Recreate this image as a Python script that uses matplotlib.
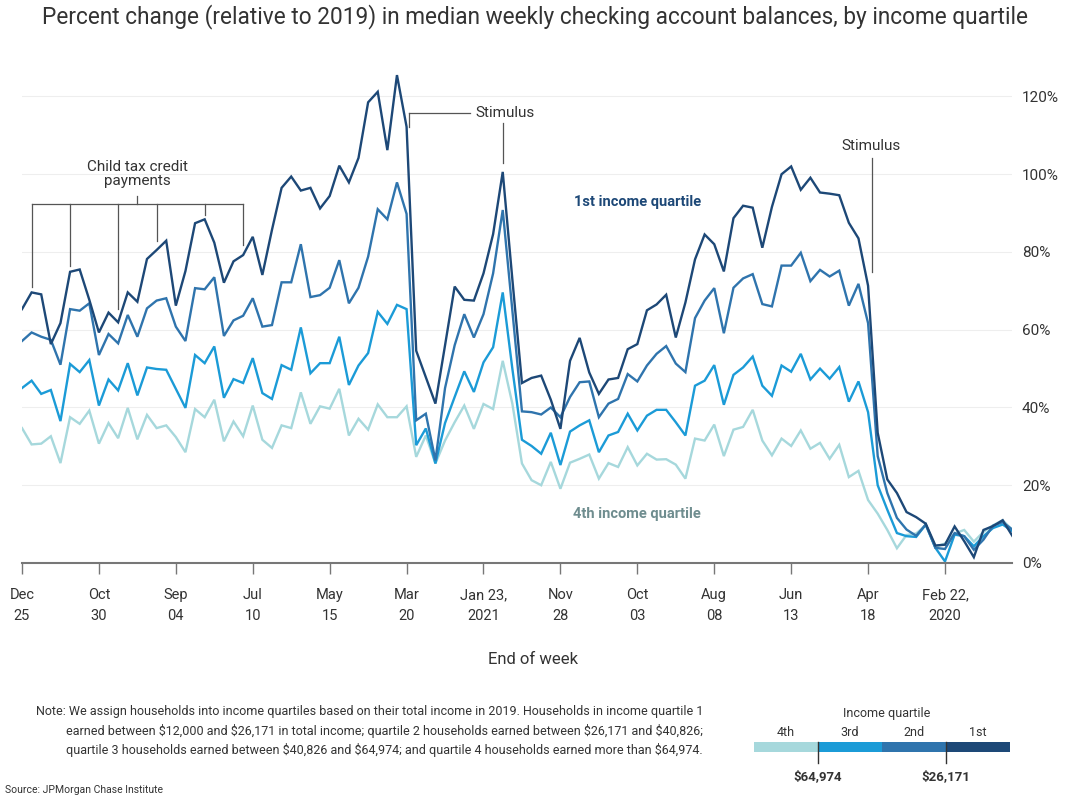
import pandas as pd
import matplotlib.pyplot as plt
from matplotlib.patches import Rectangle

plt.rcParams['font.family'] = ['Roboto', 'DejaVu Sans']

# weekly data, week ending Jan 4 2020 ... Dec 25 2021
weeks = pd.date_range('2020-01-04', periods=104, freq='7D')

q1 = [7.0, 11.0, 9.5, 8.5, 1.5, 5.6, 9.4, 4.7, 4.5, 10.1,
      11.8, 13.1, 18.0, 21.5, 33.5, 71.3, 83.5, 87.5, 94.6, 95.0,
      95.3, 99.1, 96.0, 102.0, 100.0, 91.6, 81.1, 91.4, 91.9, 88.7,
      75.0, 82.0, 84.5, 78.1, 67.0, 58.0, 69.0, 66.5, 65.0, 56.3,
      55.0, 47.6, 47.2, 43.5, 49.0, 57.9, 52.0, 34.5, 42.0, 48.2,
      47.6, 46.3, 73.0, 100.6, 84.6, 74.5, 67.5, 67.7, 71.1, 56.0,
      41.0, 47.8, 54.6, 112.2, 125.5, 106.2, 121.2, 118.5, 104.2, 97.9,
      102.2, 94.4, 91.2, 96.5, 95.8, 99.4, 96.5, 85.7, 74.1, 83.9,
      79.2, 77.6, 72.1, 82.4, 88.4, 87.4, 75.1, 66.2, 82.9, 80.5,
      78.2, 67.2, 69.6, 61.9, 64.4, 59.3, 67.7, 75.5, 74.9, 61.7,
      56.3, 69.1, 69.6, 65.3]
q2 = [8.6, 10.5, 9.6, 6.0, 3.4, 6.9, 7.7, 3.6, 3.9, 9.9,
      7.0, 8.6, 11.6, 18.0, 27.5, 61.7, 71.8, 66.2, 75.2, 73.7,
      75.4, 72.5, 79.8, 76.5, 76.5, 66.0, 66.6, 74.3, 73.2, 70.8,
      59.1, 70.7, 67.5, 63.0, 49.1, 51.3, 55.8, 53.8, 50.8, 46.7,
      48.6, 42.2, 41.0, 37.5, 46.7, 46.5, 42.7, 37.5, 40.0, 38.2,
      38.8, 39.0, 65.0, 90.8, 74.5, 64.0, 58.0, 64.0, 56.0, 45.0,
      26.4, 38.4, 36.7, 89.8, 97.9, 88.4, 91.0, 78.8, 70.8, 66.8,
      77.9, 70.8, 68.9, 68.4, 82.0, 72.2, 72.2, 61.2, 60.8, 68.1,
      63.6, 62.4, 58.4, 73.5, 70.4, 70.7, 57.1, 60.8, 68.1, 67.5,
      65.5, 58.2, 63.8, 56.5, 58.9, 53.5, 66.8, 64.9, 65.3, 51.0,
      57.4, 58.2, 59.3, 57.1]
q3 = [8.2, 9.9, 9.0, 6.9, 4.3, 6.9, 7.3, 0.4, 3.9, 9.9,
      6.7, 6.9, 7.7, 13.7, 20.0, 38.8, 46.7, 41.5, 50.4, 47.4,
      50.0, 47.2, 53.8, 49.2, 50.8, 43.0, 45.6, 53.1, 50.3, 48.4,
      40.7, 50.9, 46.9, 45.6, 32.8, 36.2, 39.4, 39.4, 37.9, 34.1,
      38.4, 33.7, 32.8, 28.5, 36.7, 35.4, 33.8, 25.2, 33.5, 28.1,
      30.1, 31.7, 50.0, 69.6, 55.5, 51.6, 44.0, 49.3, 42.7, 36.0,
      25.6, 34.6, 30.3, 65.3, 66.4, 61.5, 64.6, 54.0, 50.8, 45.8,
      58.2, 51.4, 51.4, 48.8, 60.6, 49.7, 50.9, 42.2, 43.7, 52.7,
      46.3, 47.3, 42.5, 55.7, 51.4, 53.5, 39.9, 44.8, 49.7, 49.9,
      50.3, 43.1, 51.4, 44.4, 47.2, 40.5, 52.2, 49.1, 51.2, 36.5,
      44.5, 43.5, 46.9, 45.0]
q4 = [8.5, 11.0, 9.7, 8.0, 5.5, 8.5, 7.6, 5.0, 4.2, 9.7,
      7.6, 7.2, 3.8, 8.5, 12.7, 16.2, 23.7, 22.1, 30.4, 26.8,
      30.9, 29.4, 34.1, 30.1, 32.0, 27.7, 31.5, 39.4, 35.0, 34.3,
      27.5, 35.6, 31.5, 32.0, 21.7, 25.3, 26.7, 26.6, 28.1, 25.1,
      29.8, 24.7, 25.7, 21.7, 27.9, 26.8, 25.8, 19.1, 26.0, 20.0,
      21.3, 25.6, 41.0, 52.0, 39.6, 40.9, 34.5, 40.5, 36.2, 31.5,
      25.6, 32.8, 27.3, 40.3, 37.5, 37.5, 40.8, 34.3, 37.1, 32.8,
      44.8, 39.7, 40.3, 35.8, 43.9, 34.7, 35.4, 29.6, 31.7, 40.5,
      32.6, 36.4, 31.3, 42.0, 37.5, 39.6, 28.5, 32.4, 35.4, 34.7,
      38.1, 31.8, 39.9, 32.1, 36.0, 30.7, 39.2, 35.8, 37.5, 25.7,
      32.6, 30.7, 30.5, 34.7]

tick_idx = list(range(7, 104, 8))
tick_labels = ['Feb 22,\n2020', 'Apr\n18', 'Jun\n13', 'Aug\n08', 'Oct\n03', 'Nov\n28',
               'Jan 23,\n2021', 'Mar\n20', 'May\n15', 'Jul\n10', 'Sep\n04', 'Oct\n30', 'Dec\n25']

colors = {'1st': '#1d4877', '2nd': '#2f74ad', '3rd': '#1b9bd7', '4th': '#a6d8dc'}
legend_names = ['4th', '3rd', '2nd', '1st']
cut_labels = ['\\$64,974', '\\$26,171']

# child tax credit payment weeks and where the bracket drops end
ctc_weeks = [80, 84, 89, 93, 98, 102]
ctc_ends = [81.8, 89.5, 82.8, 65.4, 76.4, 71.0]

W, H = 1070, 801
fig = plt.figure(figsize=(W / 100, H / 100), dpi=100)
ax = fig.add_axes([22 / W, (H - 563) / H, 990.3 / W, 505.4 / H])

for name, vals in [('4th', q4), ('3rd', q3), ('2nd', q2), ('1st', q1)]:
    ax.plot(weeks, vals, color=colors[name], lw=1.7, solid_joinstyle='miter')

ax.set_xlim(weeks[-1], weeks[0])
ax.set_ylim(0, 130)
ax.set_yticks([0, 20, 40, 60, 80, 100, 120])
ax.set_yticklabels(['0%', '20%', '40%', '60%', '80%', '100%', '120%'])
ax.yaxis.tick_right()
ax.tick_params(axis='y', length=0, pad=7, labelsize=11, labelcolor='#333333')
for lab in ax.get_yticklabels():
    lab.set_horizontalalignment('left')
ax.set_xticks([weeks[i] for i in tick_idx])
ax.set_xticklabels(tick_labels, fontsize=10.5, color='#333333', linespacing=1.6)
ax.tick_params(axis='x', length=8, width=1, color='#777777', pad=10)
ax.grid(axis='y', color='#eeeeee', lw=0.8)
ax.set_axisbelow(True)
for s in ['top', 'left', 'right']:
    ax.spines[s].set_visible(False)
ax.spines['bottom'].set_color('#777777')
ax.spines['bottom'].set_linewidth(1.5)

# annotations
txt = '#333333'
line_c = '#555555'
day = pd.Timedelta(days=1)
ax.text(weeks[53] - 1.5 * day, 115.8, 'Stimulus', fontsize=11, color=txt,
        ha='center', va='center')
ax.plot([weeks[53], weeks[53]], [102.9, 113.1], color=line_c, lw=0.9)
ax.plot([weeks[56] + 3 * day, weeks[63] - 2 * day], [115.8, 115.8], color=line_c, lw=0.9)
ax.plot([weeks[63] - 2 * day, weeks[63] - 2 * day], [115.8, 112.2], color=line_c, lw=0.9)
ax.text(weeks[15] - 2 * day, 107.3, 'Stimulus', fontsize=11, color=txt,
        ha='center', va='center')
ax.plot([weeks[15] - 3 * day] * 2, [74.8, 104.1], color=line_c, lw=0.9)

ax.text(weeks[91], 100.0, 'Child tax credit\npayments', fontsize=11, color=txt,
        ha='center', va='center', linespacing=1.0)
ax.plot([weeks[ctc_weeks[0]], weeks[ctc_weeks[-1]]], [92.3, 92.3], color=line_c, lw=0.9)
ax.plot([weeks[91], weeks[91]], [92.3, 94.4], color=line_c, lw=0.9)
for w, e in zip(ctc_weeks, ctc_ends):
    ax.plot([weeks[w], weeks[w]], [92.3, e], color=line_c, lw=0.9)

ax.text(weeks[39], 92.8, '1st income quartile', fontsize=10.5, fontweight='bold',
        color=colors['1st'], ha='center', va='center')
ax.text(weeks[39], 12.6, '4th income quartile', fontsize=10.5, fontweight='bold',
        color='#6f8d8f', ha='center', va='center')


def fx(x):
    return x / W


def fy(y):
    return 1 - y / H


fig.text(fx(535), fy(17), 'Percent change (relative to 2019) in median weekly checking account '
         'balances, by income quartile', fontsize=16.3, color=txt, ha='center', va='center')
fig.text(fx(533), fy(659), 'End of week', fontsize=12, color=txt, ha='center', va='center')

note = ('Note: We assign households into income quartiles based on their total income in 2019. '
        'Households in income quartile 1\n'
        'earned between \\$12,000 and \\$26,171 in total income; quartile 2 households earned '
        'between \\$26,171 and \\$40,826;\n'
        'quartile 3 households earned between \\$40,826 and \\$64,974; and quartile 4 households '
        'earned more than \\$64,974.')
fig.text(fx(703), fy(731), note, fontsize=9.0, color=txt, ha='right', va='center',
         linespacing=1.5)
fig.text(fx(163), fy(790), 'Source: JPMorgan Chase Institute', fontsize=7.5, color=txt,
         ha='right', va='center')

# income quartile key
lax = fig.add_axes([754 / W, (H - 752) / H, 256 / W, 10 / H])
lax.set_xlim(0, 4)
lax.set_ylim(0, 1)
lax.axis('off')
for i, name in enumerate(legend_names):
    lax.add_patch(Rectangle((i, 0), 1, 1, color=colors[name], lw=0))
    lax.text(i + 0.5, 2.0, name, fontsize=9, color=txt, ha='center', va='center', clip_on=False)
lax.text(2.08, 3.9, 'Income quartile', fontsize=9, color=txt, ha='center', va='center',
         clip_on=False)
for xpos, lab in zip([1, 3], cut_labels):
    lax.plot([xpos, xpos], [1, -1.1], color='#333333', lw=1, clip_on=False)
    lax.text(xpos, -2.5, lab, fontsize=9.5, fontweight='bold', color=txt, ha='center',
             va='center', clip_on=False)

fig.savefig('out.png', dpi=100)
